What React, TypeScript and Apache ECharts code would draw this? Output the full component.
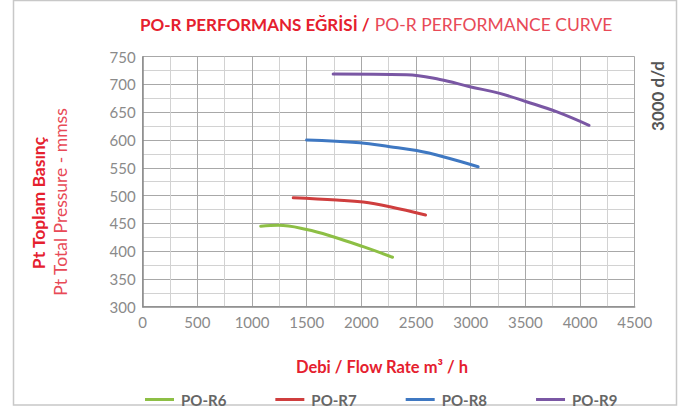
import React, { useEffect, useRef } from "react";
import * as echarts from "echarts";

const seriesNames = ["PO-R6", "PO-R7", "PO-R8", "PO-R9"];
const r6: [number, number][] = [[1079, 445], [1240, 446.5], [1499, 439], [1742, 426], [2017, 408], [2285, 389]];
const r7: [number, number][] = [[1377, 496], [1773, 492], [2017, 488.5], [2261, 480], [2587, 465]];
const r8: [number, number][] = [[1499, 600], [1986, 595], [2261, 588], [2505, 581], [2748, 570], [3068, 552]];
const r9: [number, number][] = [[1742, 719], [2413, 717.6], [2718, 709], [2992, 696], [3266, 684], [3510, 669], [3784, 651], [4082, 626.5]];
const seriesColors = ["#8dbf45", "#cf3e3e", "#3f78c2", "#7a57a4"];

const titleBold = "PO-R PERFORMANS EĞRİSİ /";
const titleLight = "PO-R PERFORMANCE CURVE";
const yTitleBold = "Pt Toplam Basınç";
const yTitleLight = "Pt Total Pressure - mmss";
const xTitle = "Debi / Flow Rate m³ / h";
const sideLabel = "3000 d/d";

const FONT = "Lato";

export default function App() {
  const ref = useRef<HTMLDivElement>(null);
  useEffect(() => {
    const chart = echarts.init(ref.current!, null, { renderer: "svg" });
    const data = [r6, r7, r8, r9];
    chart.setOption({
      animation: false,
      backgroundColor: "#ffffff",
      title: {
        left: 135,
        top: 10,
        text: "{a|" + titleBold + "} {b|" + titleLight + "}",
        textStyle: {
          rich: {
            a: { fontFamily: FONT, fontWeight: "bold", fontSize: 17, color: "#e5202e" },
            b: { fontFamily: FONT, fontWeight: "normal", fontSize: 17.5, color: "#e84a57" },
          },
        },
      },
      grid: { left: 142.7, right: 49.3, top: 56.7, bottom: 103.3 },
      xAxis: {
        type: "value",
        min: 0,
        max: 4500,
        interval: 500,
        axisLine: { show: true, lineStyle: { color: "#8a8a8a", width: 1.5 } },
        axisTick: { show: false },
        axisLabel: { color: "#8a8a8a", fontSize: 15, fontFamily: FONT, margin: 8, formatter: (v: number) => String(v) },
        splitLine: { show: true, lineStyle: { color: "#a8a8a8", width: 1 } },
        minorTick: { show: false, splitNumber: 2 },
        minorSplitLine: { show: true, lineStyle: { color: "#d2d2d2", width: 1 } },
      },
      yAxis: {
        type: "value",
        min: 300,
        max: 750,
        interval: 50,
        axisLine: { show: true, lineStyle: { color: "#8a8a8a", width: 1.5 } },
        axisTick: { show: false },
        axisLabel: { color: "#8a8a8a", fontSize: 15, fontFamily: FONT, margin: 7, formatter: (v: number) => String(v) },
        splitLine: { show: true, lineStyle: { color: "#a8a8a8", width: 1 } },
        minorTick: { show: false, splitNumber: 2 },
        minorSplitLine: { show: true, lineStyle: { color: "#d2d2d2", width: 1 } },
      },
      legend: {
        left: 140,
        top: 387,
        itemWidth: 29,
        itemHeight: 3,
        itemGap: 49,
        icon: "rect",
        textStyle: { color: "#666666", fontWeight: "bold", fontSize: 15, fontFamily: FONT, padding: [0, 0, 0, 2] },
        data: seriesNames,
      },
      series: seriesNames.map((n, i) => ({
        name: n,
        type: "line",
        smooth: 0.4,
        showSymbol: false,
        symbol: "none",
        data: data[i],
        color: seriesColors[i],
        lineStyle: { width: 3, color: seriesColors[i], cap: "round" },
      })),
      graphic: [
        {
          type: "rect",
          shape: { x: 13.5, y: 0.5, width: 663, height: 404.5 },
          style: { fill: "none", stroke: "#c8c8c8", lineWidth: 1.5 },
          silent: true,
        },
        {
          type: "text",
          x: 38,
          y: 203,
          rotation: Math.PI / 2,
          style: { text: yTitleBold, fill: "#e5202e", font: "bold 17.5px " + FONT, textAlign: "center", textVerticalAlign: "middle" },
        },
        {
          type: "text",
          x: 60,
          y: 202,
          rotation: Math.PI / 2,
          style: { text: yTitleLight, fill: "#e84a57", font: "normal 17.5px " + FONT, textAlign: "center", textVerticalAlign: "middle" },
        },
        {
          type: "text",
          x: 382,
          y: 367,
          style: { text: xTitle, fill: "#e5202e", font: "bold 16.5px " + FONT, textAlign: "center", textVerticalAlign: "middle" },
        },
        {
          type: "text",
          x: 657,
          y: 96,
          rotation: Math.PI / 2,
          style: { text: sideLabel, fill: "#555555", font: "bold 17px " + FONT, textAlign: "center", textVerticalAlign: "middle" },
        },
      ],
    });
    return () => chart.dispose();
  }, []);
  return <div ref={ref} style={{ position: "fixed", left: 0, top: 0, width: 684, height: 410 }} />;
}
